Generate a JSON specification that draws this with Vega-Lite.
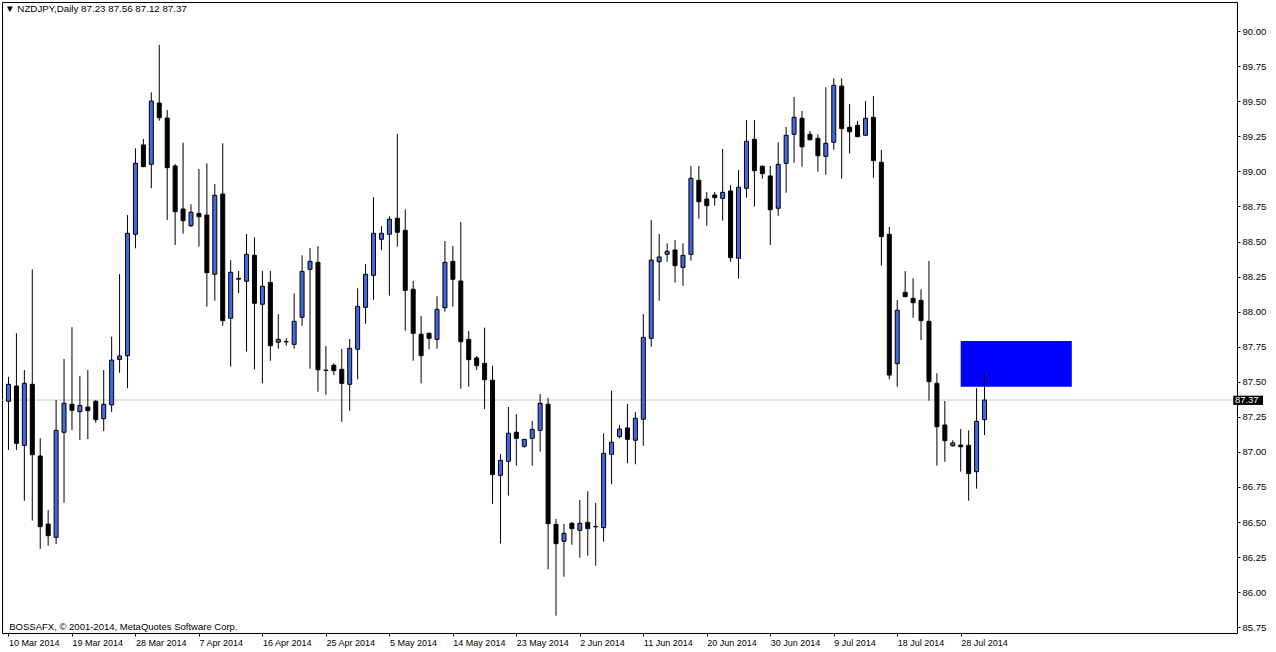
{
  "$schema": "https://vega.github.io/schema/vega-lite/v6.json",
  "width": 1235,
  "height": 631,
  "autosize": {"type": "none"},
  "padding": {"left": 2, "top": 2, "right": 39, "bottom": 19},
  "background": "white",
  "title": {"text": "▼ NZDJPY,Daily  87.23 87.56 87.12 87.37", "anchor": "start", "frame": "group", "offset": -12, "dx": 3, "font": "Liberation Sans", "fontSize": 9.75, "fontWeight": "normal", "color": "black"},
  "config": {
    "view": {"stroke": "black", "strokeWidth": 1},
    "font": "Liberation Sans",
    "axisX": {"grid": false, "domain": false, "labelAlign": "left", "labelBaseline": "top", "labelDx": -1, "labelPadding": 2, "labelFont": "Liberation Sans", "labelFontSize": 9, "labelColor": "black", "tickColor": "black", "tickSize": 3, "labelOverlap": false, "labelFlush": false, "labelBound": false},
    "axisY": {"grid": false, "domain": false, "labelPadding": 2, "labelFont": "Liberation Sans", "labelFontSize": 9.5, "labelColor": "black", "tickColor": "black", "tickSize": 3}
  },
  "datasets": {
    "candles": [
      {"i":0,"date":"2014-03-10","o":87.361,"h":87.536,"l":87.014,"c":87.482},
      {"i":1,"date":"2014-03-11","o":87.470,"h":87.846,"l":87.014,"c":87.061},
      {"i":2,"date":"2014-03-12","o":87.047,"h":87.584,"l":86.652,"c":87.489},
      {"i":3,"date":"2014-03-13","o":87.482,"h":88.302,"l":86.510,"c":86.980},
      {"i":4,"date":"2014-03-14","o":86.971,"h":87.097,"l":86.310,"c":86.467},
      {"i":5,"date":"2014-03-16","o":86.486,"h":86.586,"l":86.331,"c":86.403},
      {"i":6,"date":"2014-03-17","o":86.391,"h":87.370,"l":86.343,"c":87.154},
      {"i":7,"date":"2014-03-18","o":87.140,"h":87.663,"l":86.638,"c":87.347},
      {"i":8,"date":"2014-03-19","o":87.340,"h":87.889,"l":87.156,"c":87.297},
      {"i":9,"date":"2014-03-20","o":87.287,"h":87.541,"l":87.085,"c":87.332},
      {"i":10,"date":"2014-03-21","o":87.320,"h":87.584,"l":87.092,"c":87.294},
      {"i":11,"date":"2014-03-23","o":87.361,"h":87.370,"l":87.208,"c":87.230},
      {"i":12,"date":"2014-03-24","o":87.237,"h":87.584,"l":87.149,"c":87.340},
      {"i":13,"date":"2014-03-25","o":87.335,"h":87.822,"l":87.285,"c":87.655},
      {"i":14,"date":"2014-03-26","o":87.660,"h":88.269,"l":87.565,"c":87.684},
      {"i":15,"date":"2014-03-27","o":87.686,"h":88.689,"l":87.454,"c":88.559},
      {"i":16,"date":"2014-03-28","o":88.552,"h":89.165,"l":88.452,"c":89.058},
      {"i":17,"date":"2014-03-30","o":89.189,"h":89.231,"l":89.030,"c":89.034},
      {"i":18,"date":"2014-03-31","o":89.051,"h":89.564,"l":88.880,"c":89.502},
      {"i":19,"date":"2014-04-01","o":89.488,"h":89.902,"l":89.362,"c":89.383},
      {"i":20,"date":"2014-04-02","o":89.381,"h":89.438,"l":88.654,"c":89.027},
      {"i":21,"date":"2014-04-03","o":89.039,"h":89.053,"l":88.475,"c":88.713},
      {"i":22,"date":"2014-04-04","o":88.732,"h":89.205,"l":88.556,"c":88.649},
      {"i":23,"date":"2014-04-06","o":88.613,"h":88.766,"l":88.604,"c":88.709},
      {"i":24,"date":"2014-04-07","o":88.701,"h":89.017,"l":88.463,"c":88.677},
      {"i":25,"date":"2014-04-08","o":88.689,"h":89.058,"l":88.036,"c":88.278},
      {"i":26,"date":"2014-04-09","o":88.267,"h":88.910,"l":88.078,"c":88.830},
      {"i":27,"date":"2014-04-10","o":88.839,"h":89.201,"l":87.900,"c":87.936},
      {"i":28,"date":"2014-04-11","o":87.953,"h":88.368,"l":87.608,"c":88.281},
      {"i":29,"date":"2014-04-13","o":88.238,"h":88.290,"l":88.131,"c":88.232},
      {"i":30,"date":"2014-04-14","o":88.217,"h":88.554,"l":87.715,"c":88.409},
      {"i":31,"date":"2014-04-15","o":88.402,"h":88.530,"l":87.589,"c":88.060},
      {"i":32,"date":"2014-04-16","o":88.053,"h":88.290,"l":87.489,"c":88.181},
      {"i":33,"date":"2014-04-17","o":88.209,"h":88.290,"l":87.650,"c":87.757},
      {"i":34,"date":"2014-04-18","o":87.782,"h":87.983,"l":87.736,"c":87.803},
      {"i":35,"date":"2014-04-20","o":87.787,"h":87.810,"l":87.757,"c":87.785},
      {"i":36,"date":"2014-04-21","o":87.767,"h":88.131,"l":87.736,"c":87.931},
      {"i":37,"date":"2014-04-22","o":87.960,"h":88.402,"l":87.900,"c":88.287},
      {"i":38,"date":"2014-04-23","o":88.302,"h":88.454,"l":87.593,"c":88.359},
      {"i":39,"date":"2014-04-24","o":88.352,"h":88.468,"l":87.429,"c":87.586},
      {"i":40,"date":"2014-04-25","o":87.583,"h":87.755,"l":87.408,"c":87.581},
      {"i":41,"date":"2014-04-27","o":87.618,"h":87.632,"l":87.548,"c":87.579},
      {"i":42,"date":"2014-04-28","o":87.589,"h":87.734,"l":87.215,"c":87.489},
      {"i":43,"date":"2014-04-29","o":87.482,"h":87.805,"l":87.294,"c":87.739},
      {"i":44,"date":"2014-04-30","o":87.732,"h":88.167,"l":87.518,"c":88.038},
      {"i":45,"date":"2014-05-01","o":88.031,"h":88.340,"l":87.914,"c":88.267},
      {"i":46,"date":"2014-05-02","o":88.259,"h":88.816,"l":88.085,"c":88.559},
      {"i":47,"date":"2014-05-04","o":88.516,"h":88.609,"l":88.438,"c":88.559},
      {"i":48,"date":"2014-05-05","o":88.552,"h":88.680,"l":88.114,"c":88.659},
      {"i":49,"date":"2014-05-06","o":88.666,"h":89.267,"l":88.463,"c":88.566},
      {"i":50,"date":"2014-05-07","o":88.580,"h":88.730,"l":87.864,"c":88.152},
      {"i":51,"date":"2014-05-08","o":88.160,"h":88.219,"l":87.650,"c":87.846},
      {"i":52,"date":"2014-05-09","o":87.839,"h":87.969,"l":87.489,"c":87.686},
      {"i":53,"date":"2014-05-11","o":87.846,"h":87.850,"l":87.732,"c":87.810},
      {"i":54,"date":"2014-05-12","o":87.803,"h":88.110,"l":87.736,"c":88.017},
      {"i":55,"date":"2014-05-13","o":88.028,"h":88.504,"l":88.000,"c":88.352},
      {"i":56,"date":"2014-05-14","o":88.359,"h":88.468,"l":88.036,"c":88.231},
      {"i":57,"date":"2014-05-15","o":88.219,"h":88.639,"l":87.451,"c":87.786},
      {"i":58,"date":"2014-05-16","o":87.803,"h":87.862,"l":87.465,"c":87.658},
      {"i":59,"date":"2014-05-18","o":87.670,"h":87.684,"l":87.584,"c":87.615},
      {"i":60,"date":"2014-05-19","o":87.632,"h":87.886,"l":87.306,"c":87.515},
      {"i":61,"date":"2014-05-20","o":87.511,"h":87.615,"l":86.629,"c":86.838},
      {"i":62,"date":"2014-05-21","o":86.833,"h":86.985,"l":86.347,"c":86.940},
      {"i":63,"date":"2014-05-22","o":86.933,"h":87.320,"l":86.688,"c":87.133},
      {"i":64,"date":"2014-05-23","o":87.140,"h":87.270,"l":86.902,"c":87.097},
      {"i":65,"date":"2014-05-25","o":87.040,"h":87.092,"l":87.030,"c":87.090},
      {"i":66,"date":"2014-05-26","o":87.097,"h":87.220,"l":86.902,"c":87.161},
      {"i":67,"date":"2014-05-27","o":87.154,"h":87.413,"l":87.002,"c":87.347},
      {"i":68,"date":"2014-05-28","o":87.340,"h":87.384,"l":86.163,"c":86.488},
      {"i":69,"date":"2014-05-29","o":86.484,"h":86.522,"l":85.832,"c":86.346},
      {"i":70,"date":"2014-05-30","o":86.363,"h":86.486,"l":86.110,"c":86.420},
      {"i":71,"date":"2014-06-01","o":86.491,"h":86.500,"l":86.338,"c":86.453},
      {"i":72,"date":"2014-06-02","o":86.441,"h":86.657,"l":86.246,"c":86.491},
      {"i":73,"date":"2014-06-03","o":86.498,"h":86.719,"l":86.260,"c":86.453},
      {"i":74,"date":"2014-06-04","o":86.468,"h":86.636,"l":86.189,"c":86.466},
      {"i":75,"date":"2014-06-05","o":86.460,"h":87.133,"l":86.360,"c":86.990},
      {"i":76,"date":"2014-06-06","o":86.983,"h":87.437,"l":86.769,"c":87.069},
      {"i":77,"date":"2014-06-08","o":87.109,"h":87.192,"l":87.097,"c":87.163},
      {"i":78,"date":"2014-06-09","o":87.171,"h":87.342,"l":86.919,"c":87.090},
      {"i":79,"date":"2014-06-10","o":87.083,"h":87.285,"l":86.912,"c":87.240},
      {"i":80,"date":"2014-06-11","o":87.233,"h":87.983,"l":87.044,"c":87.817},
      {"i":81,"date":"2014-06-12","o":87.810,"h":88.654,"l":87.750,"c":88.368},
      {"i":82,"date":"2014-06-13","o":88.356,"h":88.554,"l":88.078,"c":88.390},
      {"i":83,"date":"2014-06-15","o":88.409,"h":88.488,"l":88.356,"c":88.431},
      {"i":84,"date":"2014-06-16","o":88.440,"h":88.511,"l":88.207,"c":88.328},
      {"i":85,"date":"2014-06-17","o":88.316,"h":88.488,"l":88.185,"c":88.402},
      {"i":86,"date":"2014-06-18","o":88.409,"h":89.039,"l":88.364,"c":88.951},
      {"i":87,"date":"2014-06-19","o":88.937,"h":89.039,"l":88.663,"c":88.784},
      {"i":88,"date":"2014-06-20","o":88.803,"h":88.853,"l":88.613,"c":88.756},
      {"i":89,"date":"2014-06-22","o":88.832,"h":88.853,"l":88.756,"c":88.813},
      {"i":90,"date":"2014-06-23","o":88.808,"h":89.160,"l":88.649,"c":88.851},
      {"i":91,"date":"2014-06-24","o":88.861,"h":88.903,"l":88.356,"c":88.385},
      {"i":92,"date":"2014-06-25","o":88.381,"h":89.010,"l":88.235,"c":88.887},
      {"i":93,"date":"2014-06-26","o":88.880,"h":89.367,"l":88.813,"c":89.215},
      {"i":94,"date":"2014-06-27","o":89.229,"h":89.367,"l":88.749,"c":89.005},
      {"i":95,"date":"2014-06-29","o":89.037,"h":89.042,"l":88.948,"c":88.984},
      {"i":96,"date":"2014-06-30","o":88.968,"h":89.039,"l":88.475,"c":88.727},
      {"i":97,"date":"2014-07-01","o":88.737,"h":89.208,"l":88.684,"c":89.051},
      {"i":98,"date":"2014-07-02","o":89.058,"h":89.317,"l":88.848,"c":89.258},
      {"i":99,"date":"2014-07-03","o":89.265,"h":89.531,"l":89.062,"c":89.386},
      {"i":100,"date":"2014-07-04","o":89.379,"h":89.431,"l":89.034,"c":89.176},
      {"i":101,"date":"2014-07-06","o":89.265,"h":89.288,"l":89.222,"c":89.226},
      {"i":102,"date":"2014-07-07","o":89.236,"h":89.265,"l":88.998,"c":89.112},
      {"i":103,"date":"2014-07-08","o":89.108,"h":89.600,"l":88.977,"c":89.201},
      {"i":104,"date":"2014-07-09","o":89.208,"h":89.664,"l":89.155,"c":89.614},
      {"i":105,"date":"2014-07-10","o":89.609,"h":89.664,"l":88.948,"c":89.305},
      {"i":106,"date":"2014-07-11","o":89.315,"h":89.481,"l":89.129,"c":89.283},
      {"i":107,"date":"2014-07-13","o":89.329,"h":89.360,"l":89.244,"c":89.248},
      {"i":108,"date":"2014-07-14","o":89.258,"h":89.502,"l":89.254,"c":89.379},
      {"i":109,"date":"2014-07-15","o":89.386,"h":89.538,"l":88.955,"c":89.077},
      {"i":110,"date":"2014-07-16","o":89.065,"h":89.153,"l":88.328,"c":88.535},
      {"i":111,"date":"2014-07-17","o":88.552,"h":88.604,"l":87.518,"c":87.548},
      {"i":112,"date":"2014-07-18","o":87.629,"h":88.083,"l":87.465,"c":88.010},
      {"i":113,"date":"2014-07-20","o":88.138,"h":88.290,"l":88.103,"c":88.107},
      {"i":114,"date":"2014-07-21","o":88.095,"h":88.238,"l":87.957,"c":88.064},
      {"i":115,"date":"2014-07-22","o":88.081,"h":88.160,"l":87.798,"c":87.936},
      {"i":116,"date":"2014-07-23","o":87.931,"h":88.361,"l":87.365,"c":87.501},
      {"i":117,"date":"2014-07-24","o":87.489,"h":87.561,"l":86.902,"c":87.180},
      {"i":118,"date":"2014-07-25","o":87.192,"h":87.363,"l":86.930,"c":87.080},
      {"i":119,"date":"2014-07-27","o":87.044,"h":87.083,"l":87.037,"c":87.064},
      {"i":120,"date":"2014-07-28","o":87.049,"h":87.163,"l":86.859,"c":87.037},
      {"i":121,"date":"2014-07-29","o":87.047,"h":87.154,"l":86.652,"c":86.845},
      {"i":122,"date":"2014-07-30","o":86.859,"h":87.454,"l":86.738,"c":87.218},
      {"i":123,"date":"2014-07-31","o":87.23,"h":87.56,"l":87.12,"c":87.37}
    ],
    "zone": [{"from": 120, "to": 134, "low": 87.465, "high": 87.791}],
    "notes": [{"text": "BOSSAFX, © 2001-2014, MetaQuotes Software Corp."}]
  },
  "layer": [
    {
      "data": {"name": "zone"},
      "mark": {"type": "rect", "color": "#0000ff"},
      "encoding": {
        "x": {"field": "from", "type": "quantitative", "title": null, "scale": {"domain": [-0.1875, 154.1875], "nice": false, "zero": false},
          "axis": {"values": [0, 8, 16, 24, 32, 40, 48, 56, 64, 72, 80, 88, 96, 104, 112, 120], "labelExpr": "['10 Mar 2014','19 Mar 2014','28 Mar 2014','7 Apr 2014','16 Apr 2014','25 Apr 2014','5 May 2014','14 May 2014','23 May 2014','2 Jun 2014','11 Jun 2014','20 Jun 2014','30 Jun 2014','9 Jul 2014','18 Jul 2014','28 Jul 2014'][round(datum.value / 8)]"}},
        "x2": {"field": "to"},
        "y": {"field": "low", "type": "quantitative", "title": null, "scale": {"domain": [85.7088, 90.2082], "nice": false, "zero": false},
          "axis": {"orient": "right", "values": [85.75, 86, 86.25, 86.5, 86.75, 87, 87.25, 87.5, 87.75, 88, 88.25, 88.5, 88.75, 89, 89.25, 89.5, 89.75, 90], "format": ".2f"}},
        "y2": {"field": "high"}
      }
    },
    {
      "data": {"name": "candles"},
      "transform": [{"filter": "datum.i == 123"}],
      "mark": {"type": "rule", "color": "#c8c8c8", "strokeWidth": 1},
      "encoding": {
        "y": {"field": "c", "type": "quantitative", "title": null, "scale": {"domain": [85.7088, 90.2082], "nice": false, "zero": false},
          "axis": {"orient": "right", "values": [85.75, 86, 86.25, 86.5, 86.75, 87, 87.25, 87.5, 87.75, 88, 88.25, 88.5, 88.75, 89, 89.25, 89.5, 89.75, 90], "format": ".2f"}}
      }
    },
    {
      "data": {"name": "candles"},
      "mark": {"type": "rule", "color": "black", "strokeWidth": 1},
      "encoding": {
        "x": {"field": "i", "type": "quantitative", "title": null, "scale": {"domain": [-0.1875, 154.1875], "nice": false, "zero": false},
          "axis": {"values": [0, 8, 16, 24, 32, 40, 48, 56, 64, 72, 80, 88, 96, 104, 112, 120], "labelExpr": "['10 Mar 2014','19 Mar 2014','28 Mar 2014','7 Apr 2014','16 Apr 2014','25 Apr 2014','5 May 2014','14 May 2014','23 May 2014','2 Jun 2014','11 Jun 2014','20 Jun 2014','30 Jun 2014','9 Jul 2014','18 Jul 2014','28 Jul 2014'][round(datum.value / 8)]"}},
        "y": {"field": "l", "type": "quantitative", "title": null, "scale": {"domain": [85.7088, 90.2082], "nice": false, "zero": false},
          "axis": {"orient": "right", "values": [85.75, 86, 86.25, 86.5, 86.75, 87, 87.25, 87.5, 87.75, 88, 88.25, 88.5, 88.75, 89, 89.25, 89.5, 89.75, 90], "format": ".2f"}},
        "y2": {"field": "h"}
      }
    },
    {
      "data": {"name": "candles"},
      "mark": {"type": "bar", "orient": "vertical", "width": 4, "stroke": "black", "strokeWidth": 1},
      "encoding": {
        "x": {"field": "i", "type": "quantitative", "title": null, "scale": {"domain": [-0.1875, 154.1875], "nice": false, "zero": false},
          "axis": {"values": [0, 8, 16, 24, 32, 40, 48, 56, 64, 72, 80, 88, 96, 104, 112, 120], "labelExpr": "['10 Mar 2014','19 Mar 2014','28 Mar 2014','7 Apr 2014','16 Apr 2014','25 Apr 2014','5 May 2014','14 May 2014','23 May 2014','2 Jun 2014','11 Jun 2014','20 Jun 2014','30 Jun 2014','9 Jul 2014','18 Jul 2014','28 Jul 2014'][round(datum.value / 8)]"}},
        "y": {"field": "o", "type": "quantitative", "title": null, "scale": {"domain": [85.7088, 90.2082], "nice": false, "zero": false},
          "axis": {"orient": "right", "values": [85.75, 86, 86.25, 86.5, 86.75, 87, 87.25, 87.5, 87.75, 88, 88.25, 88.5, 88.75, 89, 89.25, 89.5, 89.75, 90], "format": ".2f"}},
        "y2": {"field": "c"},
        "fill": {"condition": {"test": "datum.c > datum.o", "value": "#4169e1"}, "value": "#000000"}
      }
    },
    {
      "data": {"name": "candles"},
      "transform": [{"filter": "datum.i == 123"}],
      "mark": {"type": "rect", "color": "black"},
      "encoding": {
        "x": {"datum": 154.35, "type": "quantitative", "title": null, "scale": {"domain": [-0.1875, 154.1875], "nice": false, "zero": false},
          "axis": {"values": [0, 8, 16, 24, 32, 40, 48, 56, 64, 72, 80, 88, 96, 104, 112, 120], "labelExpr": "['10 Mar 2014','19 Mar 2014','28 Mar 2014','7 Apr 2014','16 Apr 2014','25 Apr 2014','5 May 2014','14 May 2014','23 May 2014','2 Jun 2014','11 Jun 2014','20 Jun 2014','30 Jun 2014','9 Jul 2014','18 Jul 2014','28 Jul 2014'][round(datum.value / 8)]"}},
        "x2": {"datum": 158.1},
        "y": {"datum": 87.335, "type": "quantitative", "title": null, "scale": {"domain": [85.7088, 90.2082], "nice": false, "zero": false},
          "axis": {"orient": "right", "values": [85.75, 86, 86.25, 86.5, 86.75, 87, 87.25, 87.5, 87.75, 88, 88.25, 88.5, 88.75, 89, 89.25, 89.5, 89.75, 90], "format": ".2f"}},
        "y2": {"datum": 87.401}
      }
    },
    {
      "data": {"name": "candles"},
      "transform": [{"filter": "datum.i == 123"}],
      "mark": {"type": "text", "align": "left", "baseline": "middle", "color": "white", "font": "Liberation Sans", "fontSize": 9.5},
      "encoding": {
        "x": {"datum": 154.55, "type": "quantitative", "title": null, "scale": {"domain": [-0.1875, 154.1875], "nice": false, "zero": false},
          "axis": {"values": [0, 8, 16, 24, 32, 40, 48, 56, 64, 72, 80, 88, 96, 104, 112, 120], "labelExpr": "['10 Mar 2014','19 Mar 2014','28 Mar 2014','7 Apr 2014','16 Apr 2014','25 Apr 2014','5 May 2014','14 May 2014','23 May 2014','2 Jun 2014','11 Jun 2014','20 Jun 2014','30 Jun 2014','9 Jul 2014','18 Jul 2014','28 Jul 2014'][round(datum.value / 8)]"}},
        "y": {"field": "c", "type": "quantitative", "title": null, "scale": {"domain": [85.7088, 90.2082], "nice": false, "zero": false},
          "axis": {"orient": "right", "values": [85.75, 86, 86.25, 86.5, 86.75, 87, 87.25, 87.5, 87.75, 88, 88.25, 88.5, 88.75, 89, 89.25, 89.5, 89.75, 90], "format": ".2f"}},
        "text": {"field": "c", "type": "quantitative", "format": ".2f"}
      }
    },
    {
      "data": {"name": "notes"},
      "mark": {"type": "text", "align": "left", "baseline": "middle", "color": "black", "font": "Liberation Sans", "fontSize": 9.5},
      "encoding": {
        "x": {"datum": 0.1, "type": "quantitative", "title": null, "scale": {"domain": [-0.1875, 154.1875], "nice": false, "zero": false},
          "axis": {"values": [0, 8, 16, 24, 32, 40, 48, 56, 64, 72, 80, 88, 96, 104, 112, 120], "labelExpr": "['10 Mar 2014','19 Mar 2014','28 Mar 2014','7 Apr 2014','16 Apr 2014','25 Apr 2014','5 May 2014','14 May 2014','23 May 2014','2 Jun 2014','11 Jun 2014','20 Jun 2014','30 Jun 2014','9 Jul 2014','18 Jul 2014','28 Jul 2014'][round(datum.value / 8)]"}},
        "y": {"datum": 85.752, "type": "quantitative", "title": null, "scale": {"domain": [85.7088, 90.2082], "nice": false, "zero": false},
          "axis": {"orient": "right", "values": [85.75, 86, 86.25, 86.5, 86.75, 87, 87.25, 87.5, 87.75, 88, 88.25, 88.5, 88.75, 89, 89.25, 89.5, 89.75, 90], "format": ".2f"}},
        "text": {"field": "text"}
      }
    }
  ]
}
